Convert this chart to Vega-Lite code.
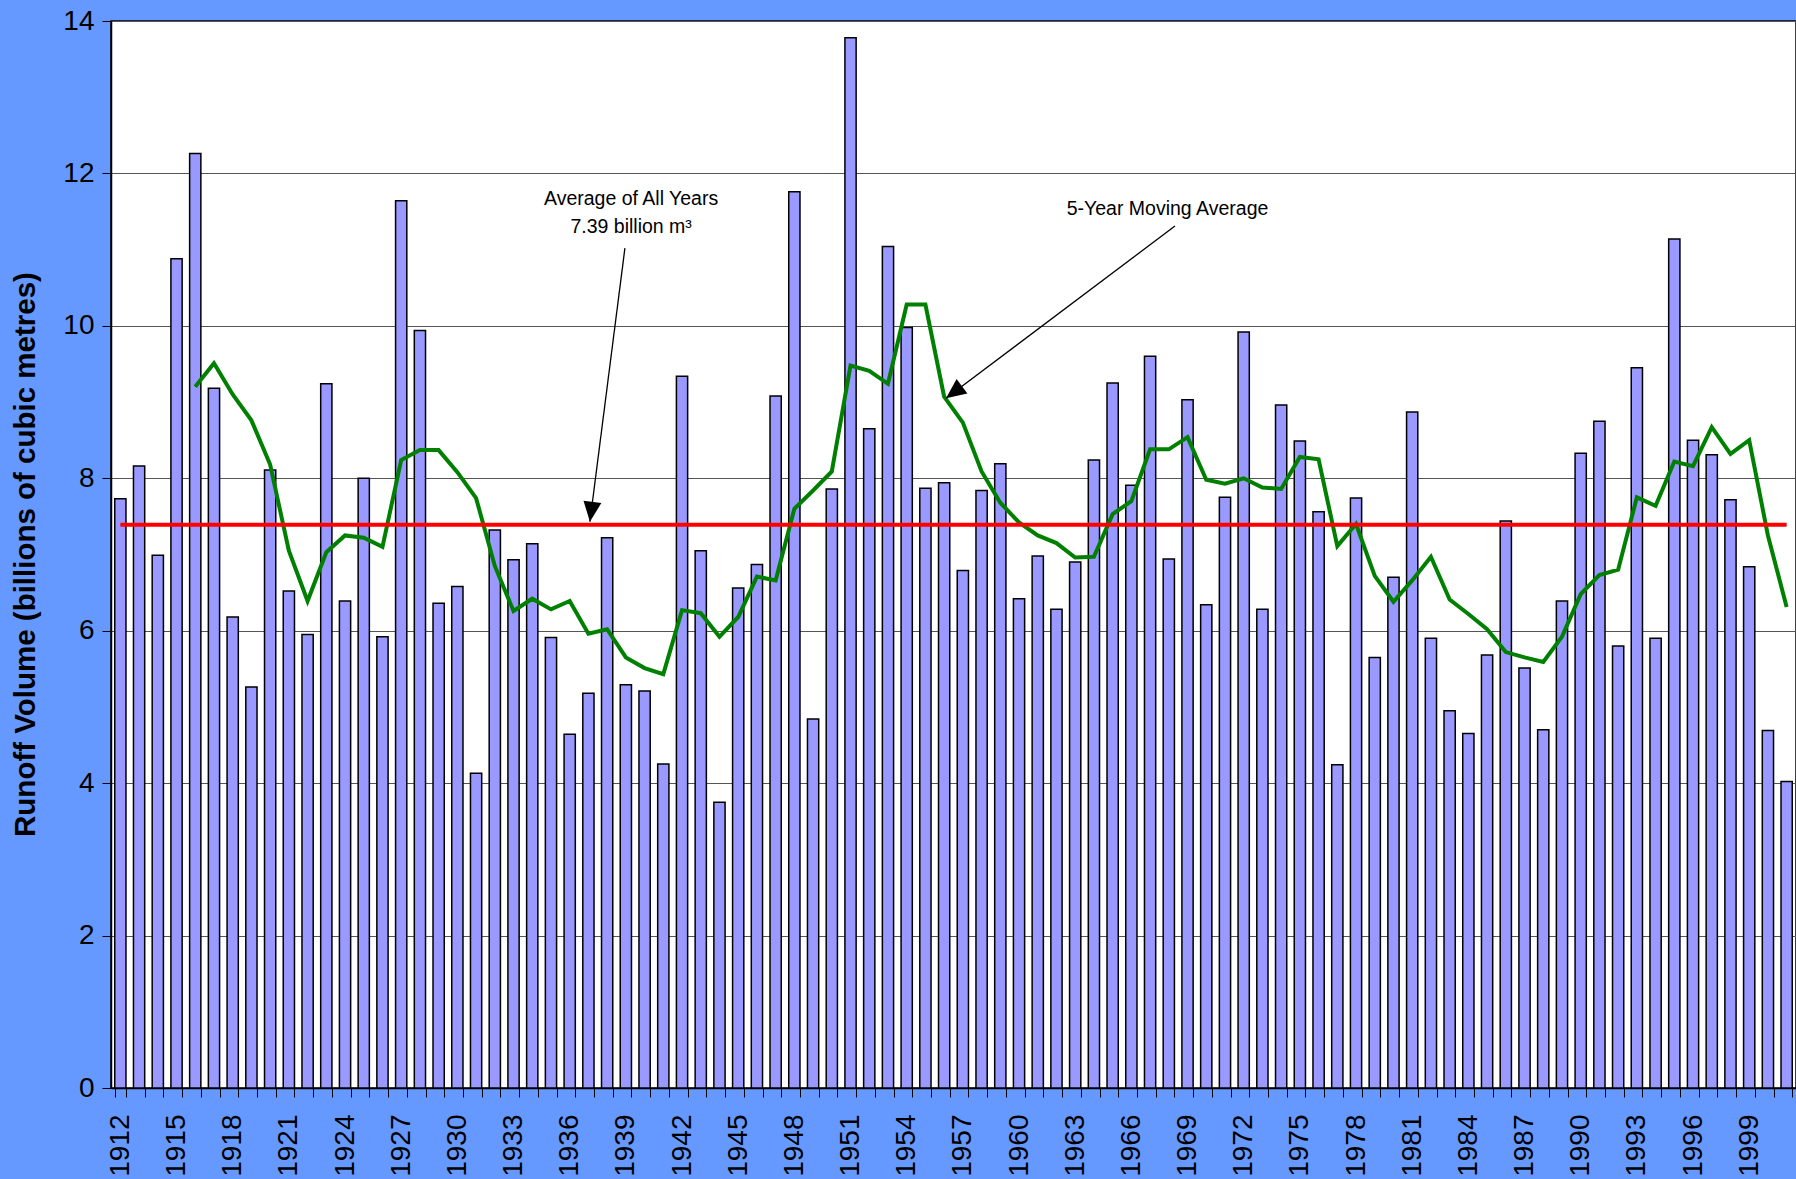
{
  "$schema": "https://vega.github.io/schema/vega-lite/v6.json",
  "autosize": "none",
  "width": 1685,
  "height": 1067,
  "padding": {"left": 111, "top": 21, "right": 0, "bottom": 91},
  "background": "#6699FF",
  "config": {
    "font": "Liberation Sans",
    "view": {"fill": "white", "stroke": "black", "strokeWidth": 1.5}
  },
  "datasets": {
    "runoff": [
      {"year": 1912, "runoff": 7.73, "ma": null},
      {"year": 1913, "runoff": 8.16, "ma": null},
      {"year": 1914, "runoff": 6.99, "ma": null},
      {"year": 1915, "runoff": 10.88, "ma": null},
      {"year": 1916, "runoff": 12.26, "ma": 9.20},
      {"year": 1917, "runoff": 9.18, "ma": 9.51},
      {"year": 1918, "runoff": 6.18, "ma": 9.10},
      {"year": 1919, "runoff": 5.26, "ma": 8.76},
      {"year": 1920, "runoff": 8.11, "ma": 8.18},
      {"year": 1921, "runoff": 6.52, "ma": 7.05},
      {"year": 1922, "runoff": 5.95, "ma": 6.39},
      {"year": 1923, "runoff": 9.24, "ma": 7.03},
      {"year": 1924, "runoff": 6.39, "ma": 7.25},
      {"year": 1925, "runoff": 8.00, "ma": 7.22},
      {"year": 1926, "runoff": 5.92, "ma": 7.10},
      {"year": 1927, "runoff": 11.64, "ma": 8.24},
      {"year": 1928, "runoff": 9.94, "ma": 8.37},
      {"year": 1929, "runoff": 6.36, "ma": 8.37},
      {"year": 1930, "runoff": 6.58, "ma": 8.08},
      {"year": 1931, "runoff": 4.13, "ma": 7.74},
      {"year": 1932, "runoff": 7.32, "ma": 6.85},
      {"year": 1933, "runoff": 6.93, "ma": 6.26},
      {"year": 1934, "runoff": 7.14, "ma": 6.42},
      {"year": 1935, "runoff": 5.91, "ma": 6.28},
      {"year": 1936, "runoff": 4.64, "ma": 6.39},
      {"year": 1937, "runoff": 5.18, "ma": 5.96},
      {"year": 1938, "runoff": 7.22, "ma": 6.02},
      {"year": 1939, "runoff": 5.29, "ma": 5.65},
      {"year": 1940, "runoff": 5.21, "ma": 5.51},
      {"year": 1941, "runoff": 4.25, "ma": 5.43},
      {"year": 1942, "runoff": 9.34, "ma": 6.27},
      {"year": 1943, "runoff": 7.05, "ma": 6.23},
      {"year": 1944, "runoff": 3.75, "ma": 5.92},
      {"year": 1945, "runoff": 6.56, "ma": 6.18},
      {"year": 1946, "runoff": 6.87, "ma": 6.71},
      {"year": 1947, "runoff": 9.08, "ma": 6.66},
      {"year": 1948, "runoff": 11.76, "ma": 7.60},
      {"year": 1949, "runoff": 4.84, "ma": 7.84},
      {"year": 1950, "runoff": 7.86, "ma": 8.09},
      {"year": 1951, "runoff": 13.78, "ma": 9.48},
      {"year": 1952, "runoff": 8.65, "ma": 9.41},
      {"year": 1953, "runoff": 11.04, "ma": 9.24},
      {"year": 1954, "runoff": 9.98, "ma": 10.28},
      {"year": 1955, "runoff": 7.87, "ma": 10.28},
      {"year": 1956, "runoff": 7.94, "ma": 9.07},
      {"year": 1957, "runoff": 6.79, "ma": 8.73},
      {"year": 1958, "runoff": 7.84, "ma": 8.09},
      {"year": 1959, "runoff": 8.19, "ma": 7.68},
      {"year": 1960, "runoff": 6.42, "ma": 7.42},
      {"year": 1961, "runoff": 6.98, "ma": 7.25},
      {"year": 1962, "runoff": 6.28, "ma": 7.15},
      {"year": 1963, "runoff": 6.90, "ma": 6.96},
      {"year": 1964, "runoff": 8.24, "ma": 6.97},
      {"year": 1965, "runoff": 9.25, "ma": 7.53},
      {"year": 1966, "runoff": 7.91, "ma": 7.70},
      {"year": 1967, "runoff": 9.60, "ma": 8.38},
      {"year": 1968, "runoff": 6.94, "ma": 8.38},
      {"year": 1969, "runoff": 9.03, "ma": 8.54},
      {"year": 1970, "runoff": 6.34, "ma": 7.98},
      {"year": 1971, "runoff": 7.75, "ma": 7.93},
      {"year": 1972, "runoff": 9.92, "ma": 8.00},
      {"year": 1973, "runoff": 6.28, "ma": 7.88},
      {"year": 1974, "runoff": 8.96, "ma": 7.86},
      {"year": 1975, "runoff": 8.49, "ma": 8.28},
      {"year": 1976, "runoff": 7.56, "ma": 8.25},
      {"year": 1977, "runoff": 4.24, "ma": 7.11},
      {"year": 1978, "runoff": 7.74, "ma": 7.40},
      {"year": 1979, "runoff": 5.65, "ma": 6.72},
      {"year": 1980, "runoff": 6.70, "ma": 6.38},
      {"year": 1981, "runoff": 8.87, "ma": 6.66},
      {"year": 1982, "runoff": 5.90, "ma": 6.97},
      {"year": 1983, "runoff": 4.95, "ma": 6.41},
      {"year": 1984, "runoff": 4.65, "ma": 6.22},
      {"year": 1985, "runoff": 5.68, "ma": 6.02},
      {"year": 1986, "runoff": 7.44, "ma": 5.72},
      {"year": 1987, "runoff": 5.51, "ma": 5.65},
      {"year": 1988, "runoff": 4.70, "ma": 5.59},
      {"year": 1989, "runoff": 6.39, "ma": 5.92},
      {"year": 1990, "runoff": 8.33, "ma": 6.48},
      {"year": 1991, "runoff": 8.75, "ma": 6.73},
      {"year": 1992, "runoff": 5.80, "ma": 6.80},
      {"year": 1993, "runoff": 9.45, "ma": 7.75},
      {"year": 1994, "runoff": 5.90, "ma": 7.64},
      {"year": 1995, "runoff": 11.14, "ma": 8.22},
      {"year": 1996, "runoff": 8.50, "ma": 8.16},
      {"year": 1997, "runoff": 8.31, "ma": 8.67},
      {"year": 1998, "runoff": 7.72, "ma": 8.32},
      {"year": 1999, "runoff": 6.84, "ma": 8.50},
      {"year": 2000, "runoff": 4.69, "ma": 7.25},
      {"year": 2001, "runoff": 4.02, "ma": 6.31}
    ],
    "average": [
      {"from": 1912, "to": 2001, "value": 7.39}
    ],
    "arrows": [
      {"arrow": "avg", "x": 1938.95, "y": 11.02, "x2": 1937.08, "y2": 7.43},
      {"arrow": "ma", "x": 1968.33, "y": 11.31, "x2": 1956.1, "y2": 9.05}
    ],
    "labels": [
      {"text": "Average of All Years", "x": 1939.28, "y": 11.59},
      {"text": "7.39 billion m³", "x": 1939.28, "y": 11.22},
      {"text": "5-Year Moving Average", "x": 1967.93, "y": 11.455}
    ]
  },
  "layer": [
    {
      "data": {"name": "runoff"},
      "layer": [
        {
          "mark": {"type": "bar", "color": "#9999FF", "stroke": "black", "strokeWidth": 1.5},
          "encoding": {
            "x": {
              "field": "year",
              "type": "ordinal",
              "scale": {"paddingInner": 0.4, "paddingOuter": 0.2},
              "axis": {
                "title": null,
                "labelAngle": 270,
                "labelExpr": "(datum.value - 1912) % 3 === 0 ? datum.label : ''",
                "labelOverlap": false,
                "labelFontSize": 28,
                "labelColor": "black",
                "labelPadding": 17,
                "tickBand": "extent",
                "tickSize": 9,
                "tickColor": "black",
                "tickWidth": 1,
                "domainColor": "black",
                "domainWidth": 1.5,
                "grid": false
              }
            },
            "y": {
              "field": "runoff",
              "type": "quantitative",
              "scale": {"domain": [0, 14], "nice": false},
              "axis": {
                "title": "Runoff Volume (billions of cubic metres)",
                "titleFontSize": 29.5,
                "titleFontWeight": "bold",
                "titleColor": "black",
                "titleX": -86,
                "titleY": 533,
                "titleBaseline": "middle",
                "titleAngle": 270,
                "values": [0, 2, 4, 6, 8, 10, 12, 14],
                "format": "d",
                "labelFontSize": 28,
                "labelColor": "black",
                "labelPadding": 8,
                "tickSize": 9,
                "tickColor": "black",
                "domainColor": "black",
                "domainWidth": 1.5,
                "grid": true,
                "gridColor": "#555555",
                "gridWidth": 1
              }
            }
          }
        },
        {
          "mark": {"type": "line", "color": "#008000", "strokeWidth": 4},
          "encoding": {
            "x": {"field": "year", "type": "ordinal"},
            "y": {"field": "ma", "type": "quantitative", "scale": {"domain": [0, 14], "nice": false}, "title": "Runoff Volume (billions of cubic metres)"}
          }
        }
      ]
    },
    {
      "layer": [
        {
          "data": {"name": "average"},
          "mark": {"type": "rule", "color": "#FF0000", "strokeWidth": 4},
          "encoding": {
            "x": {"field": "from", "type": "quantitative", "scale": {"domain": [1911.5, 2001.5], "nice": false, "zero": false}, "axis": null},
            "x2": {"field": "to"},
            "y": {"field": "value", "type": "quantitative", "scale": {"domain": [0, 14], "nice": false}, "title": "Runoff Volume (billions of cubic metres)"}
          }
        },
        {
          "data": {"name": "arrows"},
          "mark": {"type": "rule", "color": "black", "strokeWidth": 1.3},
          "encoding": {
            "x": {"field": "x", "type": "quantitative", "scale": {"domain": [1911.5, 2001.5], "nice": false, "zero": false}, "axis": null},
            "x2": {"field": "x2"},
            "y": {"field": "y", "type": "quantitative", "scale": {"domain": [0, 14], "nice": false}, "title": "Runoff Volume (billions of cubic metres)"},
            "y2": {"field": "y2"}
          }
        },
        {
          "data": {"name": "arrows"},
          "transform": [{"filter": "datum.arrow === 'avg'"}],
          "mark": {"type": "point", "shape": "M0,0 L-0.45,-1 L0.45,-1 Z", "size": 1600, "filled": true, "color": "black", "opacity": 1, "angle": 7.25},
          "encoding": {
            "x": {"field": "x2", "type": "quantitative", "scale": {"domain": [1911.5, 2001.5], "nice": false, "zero": false}, "axis": null},
            "y": {"field": "y2", "type": "quantitative", "scale": {"domain": [0, 14], "nice": false}, "title": "Runoff Volume (billions of cubic metres)"}
          }
        },
        {
          "data": {"name": "arrows"},
          "transform": [{"filter": "datum.arrow === 'ma'"}],
          "mark": {"type": "point", "shape": "M0,0 L-0.45,-1 L0.45,-1 Z", "size": 1600, "filled": true, "color": "black", "opacity": 1, "angle": 53.1},
          "encoding": {
            "x": {"field": "x2", "type": "quantitative", "scale": {"domain": [1911.5, 2001.5], "nice": false, "zero": false}, "axis": null},
            "y": {"field": "y2", "type": "quantitative", "scale": {"domain": [0, 14], "nice": false}, "title": "Runoff Volume (billions of cubic metres)"}
          }
        },
        {
          "data": {"name": "labels"},
          "mark": {"type": "text", "align": "center", "baseline": "alphabetic", "fontSize": 19.5, "color": "black"},
          "encoding": {
            "x": {"field": "x", "type": "quantitative", "scale": {"domain": [1911.5, 2001.5], "nice": false, "zero": false}, "axis": null},
            "y": {"field": "y", "type": "quantitative", "scale": {"domain": [0, 14], "nice": false}, "title": "Runoff Volume (billions of cubic metres)"},
            "text": {"field": "text"}
          }
        }
      ]
    }
  ],
  "resolve": {"scale": {"x": "independent"}}
}
